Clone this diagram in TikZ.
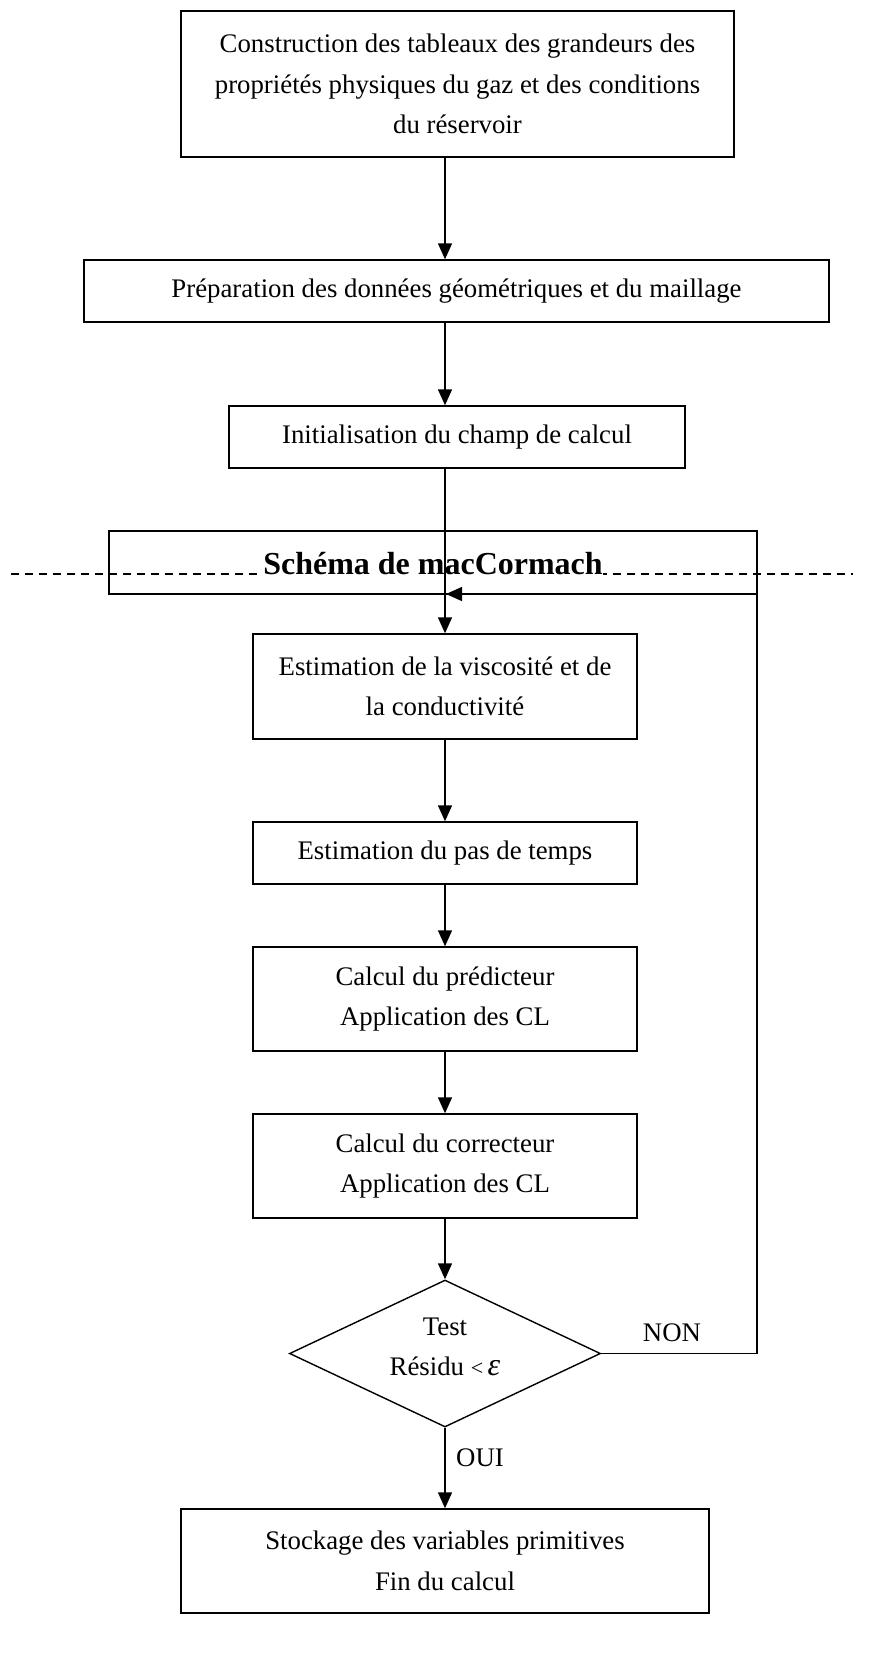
\documentclass[tikz,border=0pt]{standalone}
\usepackage{fontspec}
\setmainfont{Liberation Serif}
\usetikzlibrary{arrows.meta,shapes.geometric}
\begin{document}
\begin{tikzpicture}[x=1pt,y=-1pt,
  box/.style={draw,line width=1.4pt,inner sep=0pt,align=center,
    font=\fontsize{26.8}{40.5}\selectfont},
  arr/.style={line width=1.4pt,-{Triangle[length=16pt,width=14pt]}},
  lbl/.style={inner sep=0pt,font=\fontsize{26.8}{32}\selectfont}]
\useasboundingbox (0,0) rectangle (868,1671);

% dashed separation line
\coordinate (dl) at (11,574);
\coordinate (dr) at (853,574);
\draw[line width=1.2pt,dash pattern=on 8pt off 6pt] (dl) -- (dr);

\node[box,minimum width=553pt,minimum height=146pt] (b1) at (457.5,84)
  {Construction des tableaux des grandeurs des\\propriétés physiques du gaz et des conditions\\du réservoir};
\node[box,minimum width=745pt,minimum height=62pt] (b2) at (456.5,291)
  {Préparation des données géométriques et du maillage};
\node[box,minimum width=456pt,minimum height=62pt] (b3) at (457,437)
  {Initialisation du champ de calcul};
\node[box,minimum width=648pt,minimum height=63pt] (mc) at (433,562.5) {};
\node[inner sep=0pt,fill=white,font=\fontsize{32}{36}\selectfont\bfseries] (mct) at (433,564)
  {Schéma de macCormach};
\node[box,minimum width=384pt,minimum height=105pt] (b4) at (445,686.5)
  {Estimation de la viscosité et de\\la conductivité};
\node[box,minimum width=384pt,minimum height=62pt] (b5) at (445,853)
  {Estimation du pas de temps};
\node[box,minimum width=384pt,minimum height=104pt] (b6) at (445,999)
  {Calcul du prédicteur\\Application des CL};
\node[box,minimum width=384pt,minimum height=104pt] (b7) at (445,1166)
  {Calcul du correcteur\\Application des CL};
\node[box,diamond,minimum width=311pt,minimum height=147pt,aspect=2.116] (test) at (445,1353.5) {};
\node[inner sep=0pt,align=center,font=\fontsize{26.8}{40.5}\selectfont] (testtxt) at (445,1347)
  {Test\\Résidu {\fontsize{22}{22}\selectfont<}\,{\fontsize{32}{32}\selectfont\itshape ε}};
\node[box,minimum width=528pt,minimum height=104pt] (b8) at (445,1561)
  {Stockage des variables primitives\\Fin du calcul};

\node[lbl] (non) at (672,1333) {NON};
\node[lbl] (oui) at (480,1458) {OUI};

\coordinate (ax) at (445,0);
\draw[arr] (b1.south -| ax) -- (b2.north -| ax);
\draw[arr] (b2.south -| ax) -- (b3.north -| ax);
\draw[arr] (b3.south -| ax) -- (b4.north);
\draw[arr] (b4) -- (b5);
\draw[arr] (b5) -- (b6);
\draw[arr] (b6) -- (b7);
\draw[arr] (b7) -- (test);
\draw[arr] (test) -- (b8);

\coordinate (fb) at (757,1353.5);
\coordinate (fe) at (446,594);
\draw[arr] (test.east) -- (fb) |- (fe);
\end{tikzpicture}
\end{document}
